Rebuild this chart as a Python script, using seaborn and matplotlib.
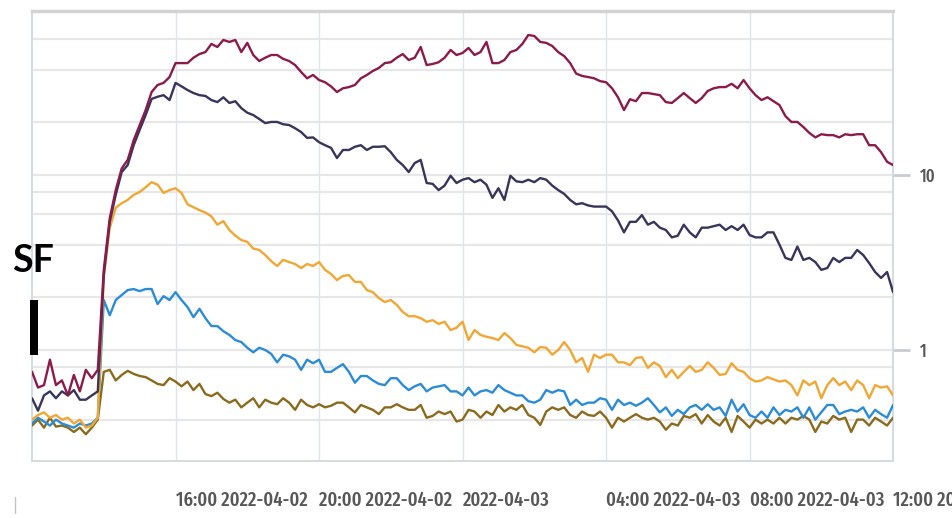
import os
import numpy as np
import pandas as pd
import matplotlib
matplotlib.use("Agg")
import matplotlib.pyplot as plt
import matplotlib.dates as mdates
from matplotlib import font_manager as fm
from matplotlib.patches import Rectangle
from matplotlib.lines import Line2D
from matplotlib.ticker import NullLocator
import seaborn as sns

# ---- data: one sample every 10 minutes from 2022-04-02 12:00 ----
start_time = "2022-04-02 12:00"
sample_step = "10min"

wine = [
    0.75, 0.61, 0.63, 0.88, 0.63, 0.67, 0.55, 0.72, 0.58, 0.77, 0.69, 0.77,
    2.87, 5.66, 8.2, 10.9, 12.2, 15.8, 19.3, 23.5, 29.8, 32.7, 33.6, 36.3, 43.6,
    43.6, 43.6, 46.8, 49.1, 50.4, 56.1, 53.9, 59.1, 57.6, 59.1, 50.4, 56.9,
    48.5, 44.8, 46.8, 48.5, 48.5, 46.1, 44.8, 42.5, 38.8, 35.7, 37.3, 34.9,
    33.9, 32.1, 29.8, 31.3, 31.8, 32.7, 35.7, 37.3, 39.3, 40.9, 43.6, 44.1,
    46.8, 49.1, 45.4, 46.8, 53.9, 42.5, 43.1, 44.1, 46.8, 51.8, 48.5,
    49.8, 53.2, 48.5, 50.4, 57.6, 43.6, 43.6, 45.4, 50.4, 51.8, 56.1, 63.1,
    62.3, 57.6, 56.9, 54.6, 50.4, 47.8, 43.6, 38.0, 36.8, 36.3, 35.7, 34.4,
    33.9, 31.3, 27.8, 23.5, 27.1, 26.4, 29.4, 29.4, 29.0, 28.6, 26.1, 25.8,
    27.5, 29.4, 27.5, 25.8, 27.5, 30.2, 31.3, 31.8, 31.8, 33.2, 31.3, 34.9,
    31.3, 28.6, 26.8, 27.8, 26.4, 25.1, 21.7, 20.1, 20.1, 18.8, 17.4, 16.4,
    17.1, 16.9, 16.9, 16.4, 17.1, 16.9, 17.1, 17.1, 14.8, 14.8, 13.5, 11.9, 11.4,
]

navy = [
    0.53, 0.45, 0.55, 0.58, 0.53, 0.58, 0.55, 0.59, 0.52, 0.52, 0.55, 0.58,
    2.68, 5.4, 7.7, 10.4, 11.4, 14.8, 18.1, 22.0, 27.2, 28.0, 28.6, 26.8, 33.6,
    32.1, 30.6, 29.4, 28.6, 28.3, 26.8, 26.1, 27.8, 25.8, 26.4, 24.1, 22.7,
    22.0, 20.9, 19.8, 20.1, 20.1, 19.5, 19.3, 18.5, 17.6, 16.3, 16.4, 15.4,
    14.8, 14.3, 12.5, 13.9, 13.9, 14.5, 14.8, 13.9, 14.5, 14.5, 14.6, 13.5,
    12.2, 11.4, 10.4, 11.7, 12.2, 9.0, 8.9, 8.2, 8.7, 9.9, 9.0,
    9.4, 9.6, 9.1, 9.4, 8.8, 7.4, 8.4, 7.2, 9.9, 9.2, 9.1, 9.4,
    9.1, 9.6, 9.4, 8.7, 8.2, 7.8, 7.2, 6.8, 6.9, 6.7, 6.6, 6.6,
    6.6, 6.2, 5.5, 4.7, 5.4, 5.4, 5.9, 5.2, 5.4, 5.0, 4.85, 4.4,
    4.5, 5.2, 4.7, 4.4, 5.0, 5.0, 5.1, 5.2, 4.85, 5.1, 4.85, 5.2,
    4.54, 4.4, 4.4, 4.7, 4.7, 4.0, 3.36, 3.27, 3.9, 3.27, 3.36, 3.18,
    2.87, 2.94, 3.36, 3.18, 3.36, 3.36, 3.73, 3.49, 3.14, 2.79, 2.58, 2.79, 2.14,
]

amber = [
    0.40, 0.425, 0.44, 0.41, 0.425, 0.40, 0.41, 0.38, 0.40, 0.36, 0.37, 0.41,
    2.6, 4.98, 6.5, 6.9, 7.2, 7.7, 8.0, 8.5, 9.1, 8.8, 7.9, 8.2, 8.4,
    7.9, 6.8, 6.55, 6.3, 6.1, 5.8, 5.2, 5.45, 4.85, 4.5, 4.25, 4.15,
    3.8, 3.73, 3.49, 3.22, 3.02, 3.27, 3.18, 3.1, 2.94, 3.1, 3.02, 3.18,
    2.87, 2.72, 2.51, 2.65, 2.68, 2.45, 2.45, 2.2, 2.14, 1.98, 1.88, 1.93,
    1.81, 1.65, 1.56, 1.56, 1.52, 1.45, 1.48, 1.41, 1.45, 1.30, 1.34,
    1.45, 1.14, 1.30, 1.22, 1.19, 1.17, 1.14, 1.25, 1.17, 1.07, 1.05, 1.03,
    0.97, 1.04, 1.03, 0.94, 1.0, 1.11, 1.0, 0.85, 0.9, 0.75, 0.94, 0.9,
    0.94, 0.94, 0.85, 0.85, 0.82, 0.9, 0.91, 0.79, 0.85, 0.81, 0.70, 0.77,
    0.69, 0.75, 0.81, 0.75, 0.77, 0.85, 0.79, 0.72, 0.73, 0.84, 0.77, 0.75,
    0.69, 0.66, 0.67, 0.70, 0.68, 0.66, 0.67, 0.63, 0.55, 0.67, 0.63, 0.66,
    0.53, 0.63, 0.69, 0.63, 0.66, 0.59, 0.67, 0.63, 0.53, 0.63, 0.61, 0.62, 0.55,
]

sky = [
    0.38, 0.41, 0.39, 0.37, 0.40, 0.38, 0.37, 0.36, 0.38, 0.37, 0.38, 0.41,
    1.93, 1.58, 1.93, 2.06, 2.2, 2.23, 2.17, 2.23, 2.23, 1.83, 2.03, 1.93, 2.14,
    1.93, 1.76, 1.54, 1.72, 1.52, 1.37, 1.37, 1.28, 1.22, 1.14, 1.11, 1.03,
    0.97, 1.03, 1.0, 0.95, 0.85, 0.94, 0.92, 0.88, 0.77, 0.88, 0.84, 0.88,
    0.75, 0.75, 0.79, 0.83, 0.75, 0.65, 0.71, 0.71, 0.67, 0.64, 0.63, 0.69,
    0.69, 0.63, 0.59, 0.62, 0.64, 0.58, 0.61, 0.62, 0.63, 0.58, 0.58,
    0.55, 0.61, 0.55, 0.58, 0.59, 0.57, 0.63, 0.59, 0.57, 0.55, 0.55, 0.51,
    0.50, 0.52, 0.59, 0.57, 0.59, 0.58, 0.485, 0.52, 0.485, 0.50, 0.50, 0.53,
    0.52, 0.455, 0.52, 0.485, 0.50, 0.48, 0.50, 0.53, 0.485, 0.44, 0.47, 0.42,
    0.455, 0.43, 0.47, 0.485, 0.455, 0.49, 0.455, 0.47, 0.42, 0.52, 0.445, 0.49,
    0.425, 0.41, 0.445, 0.41, 0.47, 0.425, 0.455, 0.445, 0.47, 0.41, 0.47, 0.40,
    0.44, 0.485, 0.485, 0.43, 0.445, 0.455, 0.445, 0.47, 0.41, 0.455, 0.43, 0.41, 0.485,
]

olive = [
    0.37, 0.40, 0.36, 0.41, 0.365, 0.37, 0.36, 0.34, 0.36, 0.33, 0.36, 0.40,
    0.75, 0.77, 0.67, 0.72, 0.76, 0.73, 0.71, 0.70, 0.67, 0.64, 0.63, 0.69, 0.66,
    0.62, 0.66, 0.59, 0.64, 0.56, 0.545, 0.57, 0.525, 0.50, 0.52, 0.47, 0.50,
    0.53, 0.47, 0.52, 0.50, 0.49, 0.53, 0.50, 0.455, 0.52, 0.485, 0.47, 0.49,
    0.47, 0.48, 0.50, 0.50, 0.47, 0.44, 0.485, 0.47, 0.455, 0.43, 0.47, 0.47,
    0.49, 0.47, 0.455, 0.455, 0.485, 0.41, 0.42, 0.445, 0.43, 0.445, 0.39,
    0.40, 0.455, 0.445, 0.41, 0.445, 0.425, 0.485, 0.445, 0.47, 0.455, 0.485, 0.425,
    0.41, 0.373, 0.445, 0.47, 0.455, 0.47, 0.425, 0.41, 0.445, 0.425, 0.42, 0.445,
    0.41, 0.36, 0.41, 0.39, 0.41, 0.43, 0.41, 0.40, 0.41, 0.39, 0.35, 0.38,
    0.37, 0.42, 0.41, 0.43, 0.38, 0.425, 0.39, 0.37, 0.41, 0.34, 0.42, 0.39,
    0.36, 0.40, 0.38, 0.40, 0.38, 0.41, 0.38, 0.41, 0.40, 0.42, 0.40, 0.34,
    0.39, 0.38, 0.42, 0.40, 0.41, 0.34, 0.40, 0.40, 0.37, 0.41, 0.39, 0.37, 0.41,
]

series_colors = {
    "olive": "#8a6b1d",
    "sky": "#2b8cd6",
    "amber": "#f0a733",
    "navy": "#37355a",
    "wine": "#8a1b4a",
}

x_range = ["2022-04-02 12:00", "2022-04-03 12:00"]
x_tick_times = ["2022-04-02 16:00", "2022-04-02 20:00", "2022-04-03 00:00",
                "2022-04-03 04:00", "2022-04-03 08:00", "2022-04-03 12:00"]
x_tick_labels = ["16:00 2022-04-02", "20:00 2022-04-02", "2022-04-03",
                 "04:00 2022-04-03", "08:00 2022-04-03", "12:00 2022-04-03"]
y_ticks = [1, 10]
y_tick_labels = ["1", "10"]
y_grid = [0.4, 0.8, 1, 2, 4, 6, 8, 10, 20, 40, 60]
y_range = (0.232, 86.5)

# ---- long-form table for seaborn ----
times = pd.date_range(start_time, periods=len(wine), freq=sample_step)
wide = pd.DataFrame({"time": times, "wine": wine, "navy": navy,
                     "amber": amber, "sky": sky, "olive": olive})
long_df = wide.melt(id_vars="time", var_name="series", value_name="value")


def condensed_font():
    """Pick a narrow sans face for the axis labels, if one is installed."""
    best = None
    for entry in fm.fontManager.ttflist:
        if entry.style != "normal" or entry.stretch in ("normal", "expanded",
                                                        "semi-expanded",
                                                        "extra-expanded",
                                                        "ultra-expanded"):
            continue
        w = entry.weight
        if not isinstance(w, (int, float)):
            w = fm.weight_dict.get(w, 400)
        fname = os.path.basename(entry.fname).lower()
        score = abs(w - 500) / 100.0
        if "extracondensed" in fname or "ultracondensed" in fname:
            score -= 3
        elif "semicondensed" in fname:
            score += 1
        if best is None or score < best[0]:
            best = (score, entry.fname)
    if best is None:
        return fm.FontProperties(family="DejaVu Sans")
    return fm.FontProperties(fname=best[1])


sns.set_theme(style="white")
plt.rcParams["font.family"] = ["DejaVu Sans"]

fig = plt.figure(figsize=(9.53, 5.18), dpi=100, facecolor="white")
ax = fig.add_axes([0.0336, 0.110, 0.9035, 0.8687])
ax.set_facecolor("white")

order = ["olive", "sky", "amber", "navy", "wine"]
sns.lineplot(data=long_df, x="time", y="value", hue="series",
             hue_order=order, palette=series_colors, linewidth=1.7,
             legend=False, ax=ax, zorder=3)

ax.set_yscale("log")
ax.set_ylim(*y_range)
ax.set_xlim(mdates.date2num(pd.to_datetime(x_range[0])),
            mdates.date2num(pd.to_datetime(x_range[1])))

# horizontal and vertical grid
for v in y_grid:
    ax.axhline(v, color="#e7e7e7", linewidth=1.6, zorder=1)
tick_nums = mdates.date2num(pd.to_datetime(x_tick_times))
for t in tick_nums[:-1]:
    ax.axvline(t, color="#dfe4ea", linewidth=1.0, zorder=1)

ax.set_xlabel("")
ax.set_ylabel("")

# frame
ax.spines["top"].set_color("#d2d2d2")
ax.spines["top"].set_linewidth(2.4)
for side in ("left", "bottom", "right"):
    ax.spines[side].set_color("#d3dae3")
    ax.spines[side].set_linewidth(1.4)

label_fp = condensed_font()
label_color = "#575757"

# x axis: labels start at their tick
ax.set_xticks(tick_nums)
ax.set_xticklabels(x_tick_labels, fontproperties=label_fp, ha="left",
                   color=label_color)
ax.tick_params(axis="x", length=17, width=1.0, color="#dfe4ea", pad=4)

# y axis on the right
ax.yaxis.tick_right()
ax.set_yticks(y_ticks)
ax.set_yticklabels(y_tick_labels, fontproperties=label_fp, color=label_color)
ax.yaxis.set_minor_locator(NullLocator())
ax.tick_params(axis="y", length=12, width=2.0, color="#c9cdd3", pad=7)

# size the tick text so the first date label spans its 4-hour slot
fig.canvas.draw()
renderer = fig.canvas.get_renderer()
xlabels = ax.get_xticklabels()
for lbl in xlabels:
    lbl.set_fontsize(20)
fig.canvas.draw()
w = xlabels[0].get_window_extent(renderer).width
size_x = 20 * 132.0 / max(w, 1)
for lbl in xlabels:
    lbl.set_fontsize(size_x)
for lbl in ax.get_yticklabels():
    lbl.set_fontsize(size_x * 0.9)

# side annotation
fig.text(12 / 953, 1 - 272 / 518, "SF", fontsize=27, fontweight="bold",
         color="black", family=["Lato", "DejaVu Sans"], va="baseline",
         ha="left")
fig.patches.append(Rectangle((30 / 953, 1 - 355 / 518), 8 / 953, 55 / 518,
                             transform=fig.transFigure, facecolor="black",
                             edgecolor="none"))
fig.lines.append(Line2D([15 / 953, 15 / 953], [1 - 513 / 518, 1 - 497 / 518],
                        transform=fig.transFigure, color="#c4c4c4",
                        linewidth=1.0))

fig.savefig("out.png", dpi=100, facecolor="white")
